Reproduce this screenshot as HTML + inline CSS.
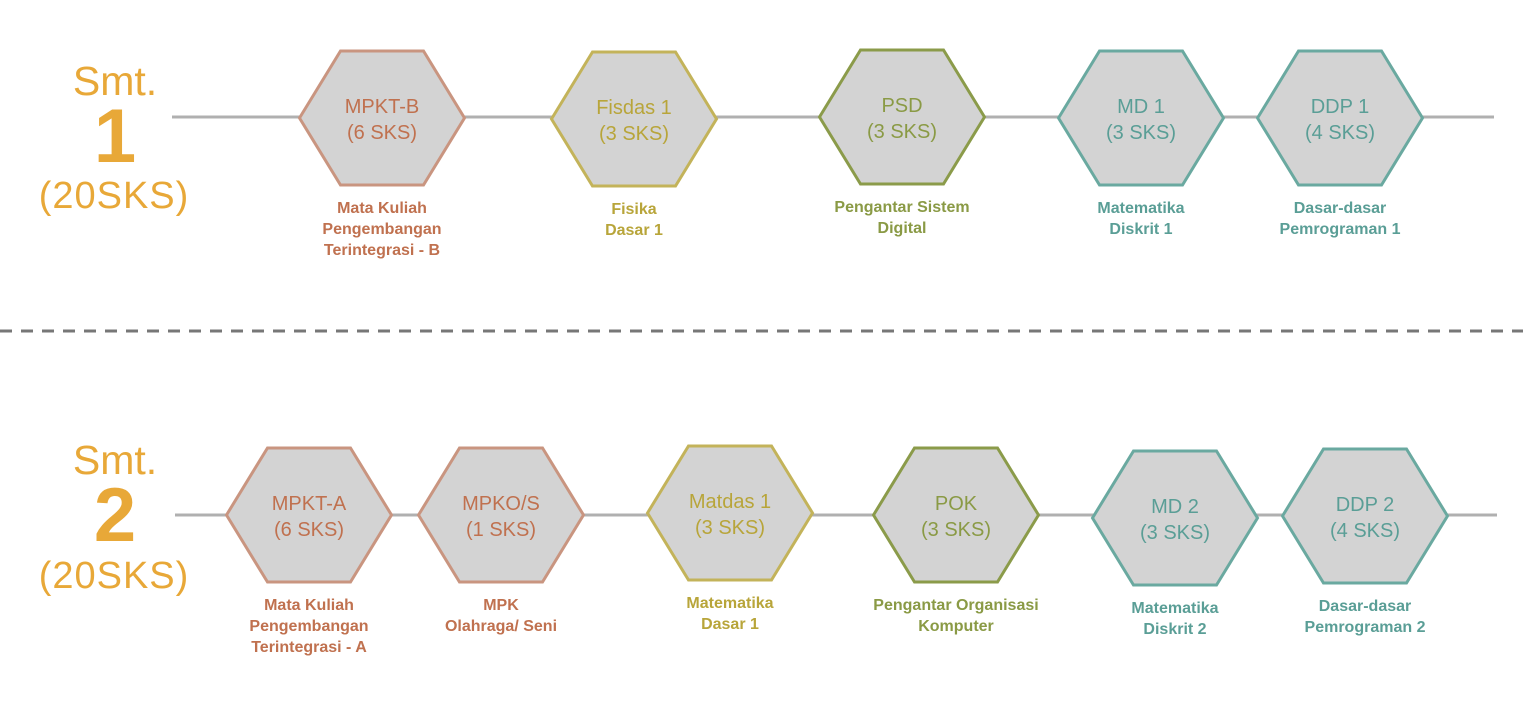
<!DOCTYPE html>
<html><head><meta charset="utf-8">
<style>
html,body{margin:0;padding:0;background:#fff;}
svg{display:block;font-family:"Liberation Sans","DejaVu Sans",sans-serif;}
</style></head>
<body>
<svg id="chart" width="1523" height="724" viewBox="0 0 1523 724" xmlns="http://www.w3.org/2000/svg">
  <line x1="172" y1="117" x2="1494" y2="117" stroke="#b0b0b0" stroke-width="3"/>
  <line x1="175" y1="515" x2="1497" y2="515" stroke="#b0b0b0" stroke-width="3"/>
  <line x1="0" y1="331" x2="1523" y2="331" stroke="#777" stroke-width="3" stroke-dasharray="12,9"/>
  <g fill="#e8a838" text-anchor="middle">
    <text x="115" y="95" font-size="41">Smt.</text>
    <text x="115" y="162" font-size="76" font-weight="bold">1</text>
    <text x="114" y="208" font-size="38" letter-spacing="1">(20SKS)</text>
  </g>
  <g fill="#e8a838" text-anchor="middle">
    <text x="115" y="474" font-size="41">Smt.</text>
    <text x="115" y="541" font-size="76" font-weight="bold">2</text>
    <text x="114" y="588" font-size="38" letter-spacing="1">(20SKS)</text>
  </g>
  <g id="nodes"></g>
</svg>
<script>
const codes = ["MPKT-B","Fisdas 1","PSD","MD 1","DDP 1","MPKT-A","MPKO/S","Matdas 1","POK","MD 2","DDP 2"];
const credits = ["(6 SKS)","(3 SKS)","(3 SKS)","(3 SKS)","(4 SKS)","(6 SKS)","(1 SKS)","(3 SKS)","(3 SKS)","(3 SKS)","(4 SKS)"];
const names = [
  ["Mata Kuliah","Pengembangan","Terintegrasi - B"],["Fisika","Dasar 1"],["Pengantar Sistem","Digital"],
  ["Matematika","Diskrit 1"],["Dasar-dasar","Pemrograman 1"],
  ["Mata Kuliah","Pengembangan","Terintegrasi - A"],["MPK","Olahraga/ Seni"],["Matematika","Dasar 1"],
  ["Pengantar Organisasi","Komputer"],["Matematika","Diskrit 2"],["Dasar-dasar","Pemrograman 2"]];
const groups = [0,1,2,3,3,0,0,1,2,3,3];
const cx = [382,634,902,1141,1340,309,501,730,956,1175,1365];
const cy = [118,119,117,118,118,515,515,513,515,518,516];
const textCol = ["#c0714f","#b8a53a","#8a9a45","#5a9e96"];
const strokeCol = ["#c99580","#c3b35a","#8b9b4a","#6aa9a0"];
const NS="http://www.w3.org/2000/svg";
const g=document.getElementById("nodes");
function mk(t,a){const e=document.createElementNS(NS,t);for(const k in a)e.setAttribute(k,a[k]);return e;}
for(let i=0;i<codes.length;i++){
  const x=cx[i],y=cy[i],w=82.5,h=67,q=41;
  const grp=mk("g",{});
  
  
  const pts=[[x-w,y],[x-w+q,y-h],[x+w-q,y-h],[x+w,y],[x+w-q,y+h],[x-w+q,y+h]].map(p=>p.join(",")).join(" ");
  const hex=mk("polygon",{points:pts,fill:"#d3d3d3",stroke:strokeCol[groups[i]],"stroke-width":3});
  
  
  grp.appendChild(hex);
  const t1=mk("text",{x:x,y:y-5,"text-anchor":"middle","font-size":20,fill:textCol[groups[i]]});
  t1.textContent=codes[i];
  
  
  grp.appendChild(t1);
  const t2=mk("text",{x:x,y:y+21,"text-anchor":"middle","font-size":20,fill:textCol[groups[i]]});
  t2.textContent=credits[i];
  
  
  grp.appendChild(t2);
  names[i].forEach((ln,j)=>{
    const d=mk("text",{x:x,y:y+h+28+j*21,"text-anchor":"middle","font-size":16,"font-weight":"600",fill:textCol[groups[i]]});
    d.textContent=ln;
    
    
    grp.appendChild(d);
  });
  g.appendChild(grp);
}
</script>
</body></html>
